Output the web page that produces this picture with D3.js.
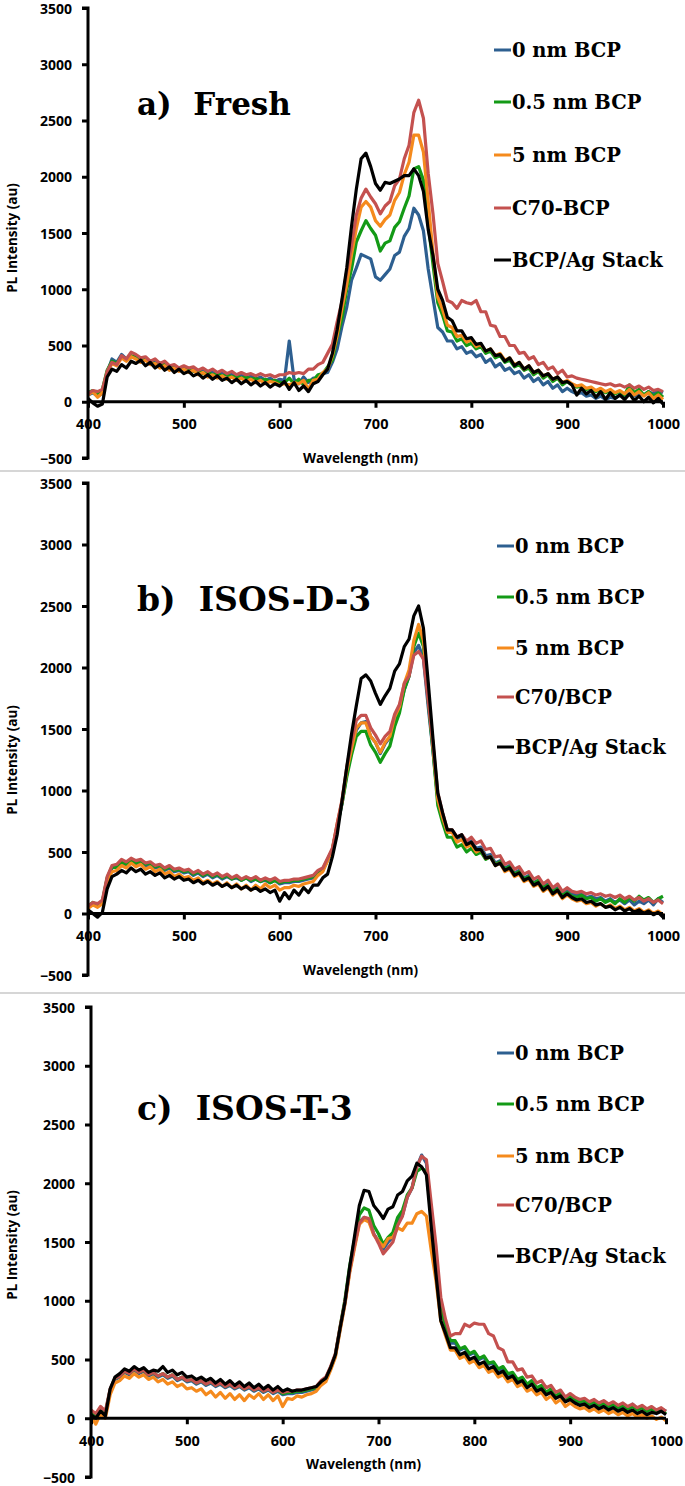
<!DOCTYPE html>
<html><head><meta charset="utf-8">
<script src="https://cdn.jsdelivr.net/npm/d3@7"></script>
<style>body{margin:0;background:#fff}svg{display:block}</style>
</head><body>
<script>
// ---------- DATA ----------
const wavelengths = d3.range(400, 1001, 5); // sampling grid, nm
const xTicks = [400, 500, 600, 700, 800, 900, 1000];
const yTicks = [-500, 0, 500, 1000, 1500, 2000, 2500, 3000, 3500];
const seriesNamesA = ["0 nm BCP", "0.5 nm BCP", "5 nm BCP", "C70-BCP", "BCP/Ag Stack"];
const seriesNamesBC = ["0 nm BCP", "0.5 nm BCP", "5 nm BCP", "C70/BCP", "BCP/Ag Stack"];
const panelTitles = ["a)  Fresh", "b)  ISOS-D-3", "c)  ISOS-T-3"];

// Panel a: Fresh
const freshBlue = [60,
 80,50,70,260,380,350,420,380,400,410,370,390,340,360,330,350,300,320,290,310,
 280,300,260,290,250,270,230,260,240,250,220,240,210,230,200,220,190,210,180,200,
 190,540,200,160,220,170,210,200,250,260,350,470,670,840,1080,1190,1310,1290,1270,1110,
 1080,1130,1180,1300,1330,1470,1540,1720,1660,1520,1180,920,660,620,540,540,470,490,430,450,
 400,420,350,380,310,340,280,300,250,270,210,240,180,210,150,180,120,150,90,120,
 90,70,80,50,60,30,50,20,40,30,60,40,70,50,80,60,90,70,100,80];
const freshGreen = [80,
 100,70,110,280,360,340,400,370,410,390,360,380,350,340,320,340,300,310,280,300,
 290,270,280,250,260,240,250,230,240,220,230,210,220,200,210,190,200,180,190,170,
 170,210,160,200,150,190,190,240,250,310,370,580,740,1000,1180,1420,1520,1610,1540,1480,
 1340,1410,1430,1550,1600,1720,1830,2070,2090,1970,1580,1220,880,770,630,620,540,560,500,520,
 470,490,430,450,390,410,350,370,310,330,280,300,240,270,210,240,180,210,150,180,
 150,130,140,110,120,90,110,80,100,70,90,60,150,80,110,60,90,50,80,40];
const freshOrange = [60,
 90,40,80,260,340,320,390,360,400,380,350,370,330,340,300,320,280,300,270,290,
 260,280,240,260,220,240,210,230,200,220,190,210,180,200,170,190,160,180,170,150,
 160,150,170,160,190,110,190,200,260,290,410,590,830,1040,1310,1540,1730,1780,1730,1610,
 1560,1620,1660,1790,1860,2020,2130,2370,2370,2220,1780,1320,930,820,680,660,580,590,530,550,
 490,510,450,470,410,430,370,390,330,350,290,320,260,280,230,250,200,220,170,190,
 160,140,150,120,130,100,120,90,110,80,100,70,110,60,90,50,80,30,60,20];
const freshRed = [70,
 100,90,110,270,350,330,410,380,440,420,390,400,360,380,340,360,320,330,300,320,
 300,310,280,300,270,290,260,280,250,270,240,260,240,250,230,250,230,240,220,240,
 240,260,250,260,250,290,290,330,350,430,510,710,890,1160,1390,1660,1810,1890,1820,1760,
 1670,1740,1780,1920,1980,2160,2280,2570,2680,2520,2030,1670,1230,1070,900,880,830,900,880,870,
 900,800,800,680,670,580,580,500,500,430,440,380,400,330,350,290,310,250,280,220,
 230,210,200,190,180,170,160,150,160,140,150,130,150,120,140,110,130,100,110,90];
const freshBlack = [30,
 -10,-40,-20,220,290,270,330,300,360,340,370,320,350,300,330,280,310,260,290,250,
 270,230,250,210,240,200,230,190,210,170,200,160,190,150,180,140,170,130,160,140,
 180,110,170,100,140,90,160,180,240,290,430,640,910,1190,1560,1890,2160,2210,2090,1940,
 1880,1950,1940,1960,1980,2010,2010,2070,2010,1870,1530,1300,1000,900,750,720,630,630,560,570,
 510,520,450,470,410,420,360,390,320,350,290,320,260,280,230,250,200,220,170,180,
 150,60,120,70,100,40,90,20,80,30,60,20,70,10,50,0,40,-10,30,-20];

// Panel b: ISOS-D-3
const isosDBlue = [50,
 80,60,90,280,370,380,410,390,430,400,420,380,400,370,380,350,370,340,350,330,
 340,310,330,300,320,290,310,280,300,280,290,270,290,260,280,260,270,250,270,240,
 250,250,260,260,270,280,290,330,350,430,510,710,890,1130,1320,1490,1550,1560,1440,1390,
 1300,1380,1430,1570,1660,1820,1930,2120,2180,2070,1680,1320,930,800,670,670,610,630,570,590,
 530,540,470,480,410,430,370,390,330,350,290,310,250,270,220,240,190,210,160,190,
 160,150,160,130,140,120,130,100,120,90,110,80,110,70,100,80,110,70,120,90];
const isosDGreen = [60,
 90,70,100,290,380,370,420,400,440,410,430,400,410,380,390,360,380,350,360,340,
 350,320,340,310,330,300,320,290,310,280,300,270,290,270,280,260,280,250,270,250,
 260,260,270,270,280,290,300,340,360,440,520,710,890,1110,1290,1440,1480,1480,1370,1310,
 1230,1300,1360,1520,1630,1820,1930,2170,2280,2170,1730,1320,880,740,620,620,540,560,500,530,
 480,500,440,460,400,420,360,380,320,340,280,300,240,270,210,230,180,200,150,170,
 140,130,150,120,130,100,120,90,110,80,120,90,130,100,140,110,130,90,120,140];
const isosDOrange = [40,
 70,50,80,260,340,350,390,370,410,380,400,360,380,340,360,320,340,300,320,290,
 300,270,290,250,270,240,260,220,250,210,240,200,230,190,230,200,240,210,230,190,
 210,210,230,220,240,250,260,310,340,430,520,730,910,1160,1340,1510,1550,1550,1440,1390,
 1310,1390,1440,1600,1680,1870,1980,2220,2350,2220,1780,1370,930,780,660,660,580,600,540,560,
 500,520,450,460,390,410,340,360,300,320,260,280,220,240,180,210,150,180,120,150,
 120,100,110,80,90,60,80,50,70,40,60,30,50,20,40,10,30,0,20,-10];
const isosDRed = [60,
 90,80,110,300,390,400,440,420,450,430,440,410,420,390,400,370,390,360,370,350,
 360,330,350,320,340,310,330,300,320,290,310,280,300,280,300,270,290,270,290,260,
 270,270,280,280,290,300,310,350,370,450,530,730,920,1190,1390,1570,1610,1610,1510,1450,
 1380,1440,1480,1620,1700,1870,1930,2100,2130,2070,1730,1370,980,820,680,680,620,640,590,620,
 570,590,520,530,460,470,400,420,360,380,320,340,280,300,240,270,210,240,180,210,
 180,170,180,160,170,150,160,140,150,130,150,120,140,110,130,100,120,90,110,80];
const isosDBlack = [30,
 0,-30,10,200,300,320,350,330,370,340,360,320,340,310,330,290,310,280,300,270,
 280,250,270,240,260,230,250,220,240,210,230,200,220,190,210,180,200,170,190,100,
 170,120,190,150,210,170,230,230,290,320,460,640,910,1190,1460,1690,1910,1940,1890,1790,
 1700,1770,1830,1970,2030,2170,2230,2420,2500,2320,1880,1420,980,820,680,680,620,640,560,580,
 520,520,450,460,390,410,350,370,310,330,270,290,230,250,190,220,160,190,130,160,
 130,110,120,90,100,70,80,50,60,30,50,20,40,10,30,0,20,-10,10,-30];

// Panel c: ISOS-T-3
const isosTBlue = [50,
 20,70,40,230,330,350,390,370,410,380,400,360,380,350,370,340,360,320,340,310,
 320,290,310,280,300,270,290,260,280,250,270,240,260,230,250,220,240,210,230,200,
 210,210,220,220,230,240,250,300,330,420,530,760,980,1260,1470,1670,1710,1690,1570,1510,
 1440,1500,1540,1670,1730,1880,1960,2140,2240,2170,1730,1320,900,760,640,640,580,600,540,560,
 500,520,460,470,410,420,360,380,320,340,280,300,240,270,210,230,180,200,150,180,
 150,130,140,110,130,100,120,90,110,80,100,70,120,80,100,60,90,50,80,60];
const isosTGreen = [60,
 30,90,50,240,340,360,400,380,420,390,410,370,390,360,380,350,370,330,350,320,
 330,300,320,290,310,280,300,270,290,260,280,250,270,240,260,230,250,220,240,210,
 220,220,230,230,240,250,260,310,340,430,540,780,1010,1300,1520,1730,1790,1770,1640,1570,
 1480,1540,1580,1710,1770,1900,1960,2100,2130,2100,1730,1350,940,790,660,660,590,610,550,570,
 510,530,470,480,420,440,380,390,330,350,290,320,260,280,220,250,190,220,160,190,
 160,140,150,120,140,110,130,100,120,90,110,80,100,70,90,60,80,50,70,40];
const isosTOrange = [20,
 -50,40,0,200,300,320,360,340,380,350,370,330,350,310,330,290,310,270,290,250,
 260,230,250,200,230,180,220,170,210,160,200,150,200,170,210,160,200,150,190,100,
 170,160,190,180,200,210,230,280,310,410,520,750,970,1240,1450,1650,1690,1670,1560,1510,
 1460,1530,1540,1620,1600,1660,1660,1740,1760,1720,1430,1170,830,700,580,580,510,530,470,490,
 430,450,390,410,350,370,310,330,270,290,230,250,200,220,160,190,130,160,100,130,
 100,80,90,60,80,50,70,40,60,30,50,20,40,10,30,0,20,-10,10,-20];
const isosTRed = [70,
 40,100,60,250,340,360,400,380,420,390,410,370,390,360,380,350,370,330,350,320,
 330,300,320,290,310,280,300,270,290,260,280,250,270,240,260,230,250,220,240,220,
 230,230,240,240,250,260,270,320,350,440,550,780,990,1260,1470,1660,1710,1700,1570,1490,
 1400,1450,1500,1640,1720,1880,1960,2140,2230,2200,1830,1470,1030,840,700,720,720,800,780,810,
 800,800,720,700,600,580,480,480,410,420,350,360,300,320,260,280,220,240,180,210,
 180,160,170,140,160,130,150,120,140,110,130,100,120,90,110,80,100,70,90,60];
const isosTBlack = [30,
 0,60,20,250,350,380,420,400,440,410,430,390,410,400,440,390,410,370,390,350,
 360,330,350,320,340,300,330,290,320,280,310,270,300,260,290,250,280,240,270,230,
 250,230,240,240,250,260,270,310,340,430,540,770,990,1290,1550,1810,1940,1930,1810,1760,
 1700,1780,1800,1900,1930,2020,2060,2170,2140,2070,1630,1220,830,720,600,600,540,560,500,520,
 460,480,420,440,380,400,340,360,300,320,260,290,230,250,200,220,170,190,140,160,
 130,110,120,90,110,80,100,70,90,60,80,50,70,40,60,30,50,40,60,30];

// ---------- STYLE / LAYOUT ----------
const colors = ["#2d5f90", "#139a16", "#f58a1d", "#c4514f", "#000000"];
const W = 685, H = 1486;
const panels = [
  {title: panelTitles[0], titleSize: 31, names: seriesNamesA, data: [freshBlue, freshGreen, freshOrange, freshRed, freshBlack],
   x0: 88, x1: 663, yTop: 8, yBot: 458, titleY: 115, legX: 494, legY: [50, 102, 155, 208, 260],
   xlabY: 463, ylabY: 238},
  {title: panelTitles[1], titleSize: 33, names: seriesNamesBC, data: [isosDBlue, isosDGreen, isosDOrange, isosDRed, isosDBlack],
   x0: 88, x1: 663, yTop: 483, yBot: 975, titleY: 611, legX: 497, legY: [546, 597, 648, 697, 747],
   xlabY: 975, ylabY: 760},
  {title: panelTitles[2], titleSize: 33, names: seriesNamesBC, data: [isosTBlue, isosTGreen, isosTOrange, isosTRed, isosTBlack],
   x0: 91, x1: 666, yTop: 1007, yBot: 1477, titleY: 1120, legX: 497, legY: [1053, 1104, 1156, 1205, 1256],
   xlabY: 1469, ylabY: 1245}
];

const svg = d3.select("body").append("svg").attr("width", W).attr("height", H);
svg.append("rect").attr("width", W).attr("height", H).attr("fill", "#fff");

// separators
[471, 993].forEach(yy => svg.append("line").attr("x1", 0).attr("x2", W).attr("y1", yy).attr("y2", yy)
  .attr("stroke", "#d6d6d6").attr("stroke-width", 2));

const sans = "'Open Sans', 'Noto Sans', sans-serif";
const serif = "'DejaVu Serif', serif";

panels.forEach(p => {
  const g = svg.append("g");
  const x = d3.scaleLinear().domain([400, 1000]).range([p.x0, p.x1]);
  const y = d3.scaleLinear().domain([-500, 3500]).range([p.yBot, p.yTop]);

  // series
  const line = d3.line().x((d, i) => x(wavelengths[i])).y(d => y(d));
  p.data.forEach((s, k) => {
    g.append("path").datum(s).attr("d", line).attr("fill", "none")
      .attr("stroke", colors[k]).attr("stroke-width", 3.2).attr("stroke-linejoin", "round");
  });

  // y axis
  const yAxis = d3.axisLeft(y).tickValues(yTicks).tickSize(6).tickPadding(10).tickFormat(d3.format("d"));
  const ya = g.append("g").attr("transform", `translate(${p.x0},0)`).call(yAxis);
  ya.select(".domain").attr("d", `M-6,${p.yTop}H0V${p.yBot}H-6`).attr("stroke", "#000").attr("stroke-width", 3);
  ya.selectAll(".tick line").attr("stroke", "#000").attr("stroke-width", 3);
  ya.selectAll(".tick text").attr("font-family", sans).attr("font-weight", "bold").attr("font-size", 14)
    .attr("fill", "#000").attr("dy", "0.36em");

  // x axis at y=0
  const xAxis = d3.axisBottom(x).tickValues(xTicks).tickSize(6).tickPadding(11).tickFormat(d3.format("d"));
  const xa = g.append("g").attr("transform", `translate(0,${y(0)})`).call(xAxis);
  xa.select(".domain").attr("d", `M${p.x0},0H${p.x1}`).attr("stroke", "#000").attr("stroke-width", 3);
  xa.selectAll(".tick line").attr("stroke", "#000").attr("stroke-width", 3);
  xa.selectAll(".tick text").attr("font-family", sans).attr("font-weight", "bold").attr("font-size", 14.5).attr("fill", "#000");

  // axis labels
  g.append("text").attr("x", (p.x0 + p.x1) / 2 - 15).attr("y", p.xlabY).attr("text-anchor", "middle")
    .attr("font-family", sans).attr("font-weight", "bold").attr("font-size", 13.5).text("Wavelength (nm)");
  g.append("text").attr("transform", `translate(17,${p.ylabY}) rotate(-90)`).attr("text-anchor", "middle")
    .attr("font-family", sans).attr("font-weight", "bold").attr("font-size", 13.5).text("PL Intensity (au)");

  // title
  g.append("text").attr("x", 137).attr("y", p.titleY).attr("font-family", serif).attr("font-weight", "bold")
    .attr("font-size", p.titleSize).style("white-space", "pre").text(p.title);

  // legend
  p.names.forEach((n, k) => {
    const yy = p.legY[k];
    g.append("line").attr("x1", p.legX).attr("x2", p.legX + 17).attr("y1", yy).attr("y2", yy)
      .attr("stroke", colors[k]).attr("stroke-width", 3);
    g.append("text").attr("x", p.legX + 18).attr("y", yy + 7).attr("font-family", serif)
      .attr("font-weight", "bold").attr("font-size", 19.5).text(n);
  });
});
</script>
</body></html>
